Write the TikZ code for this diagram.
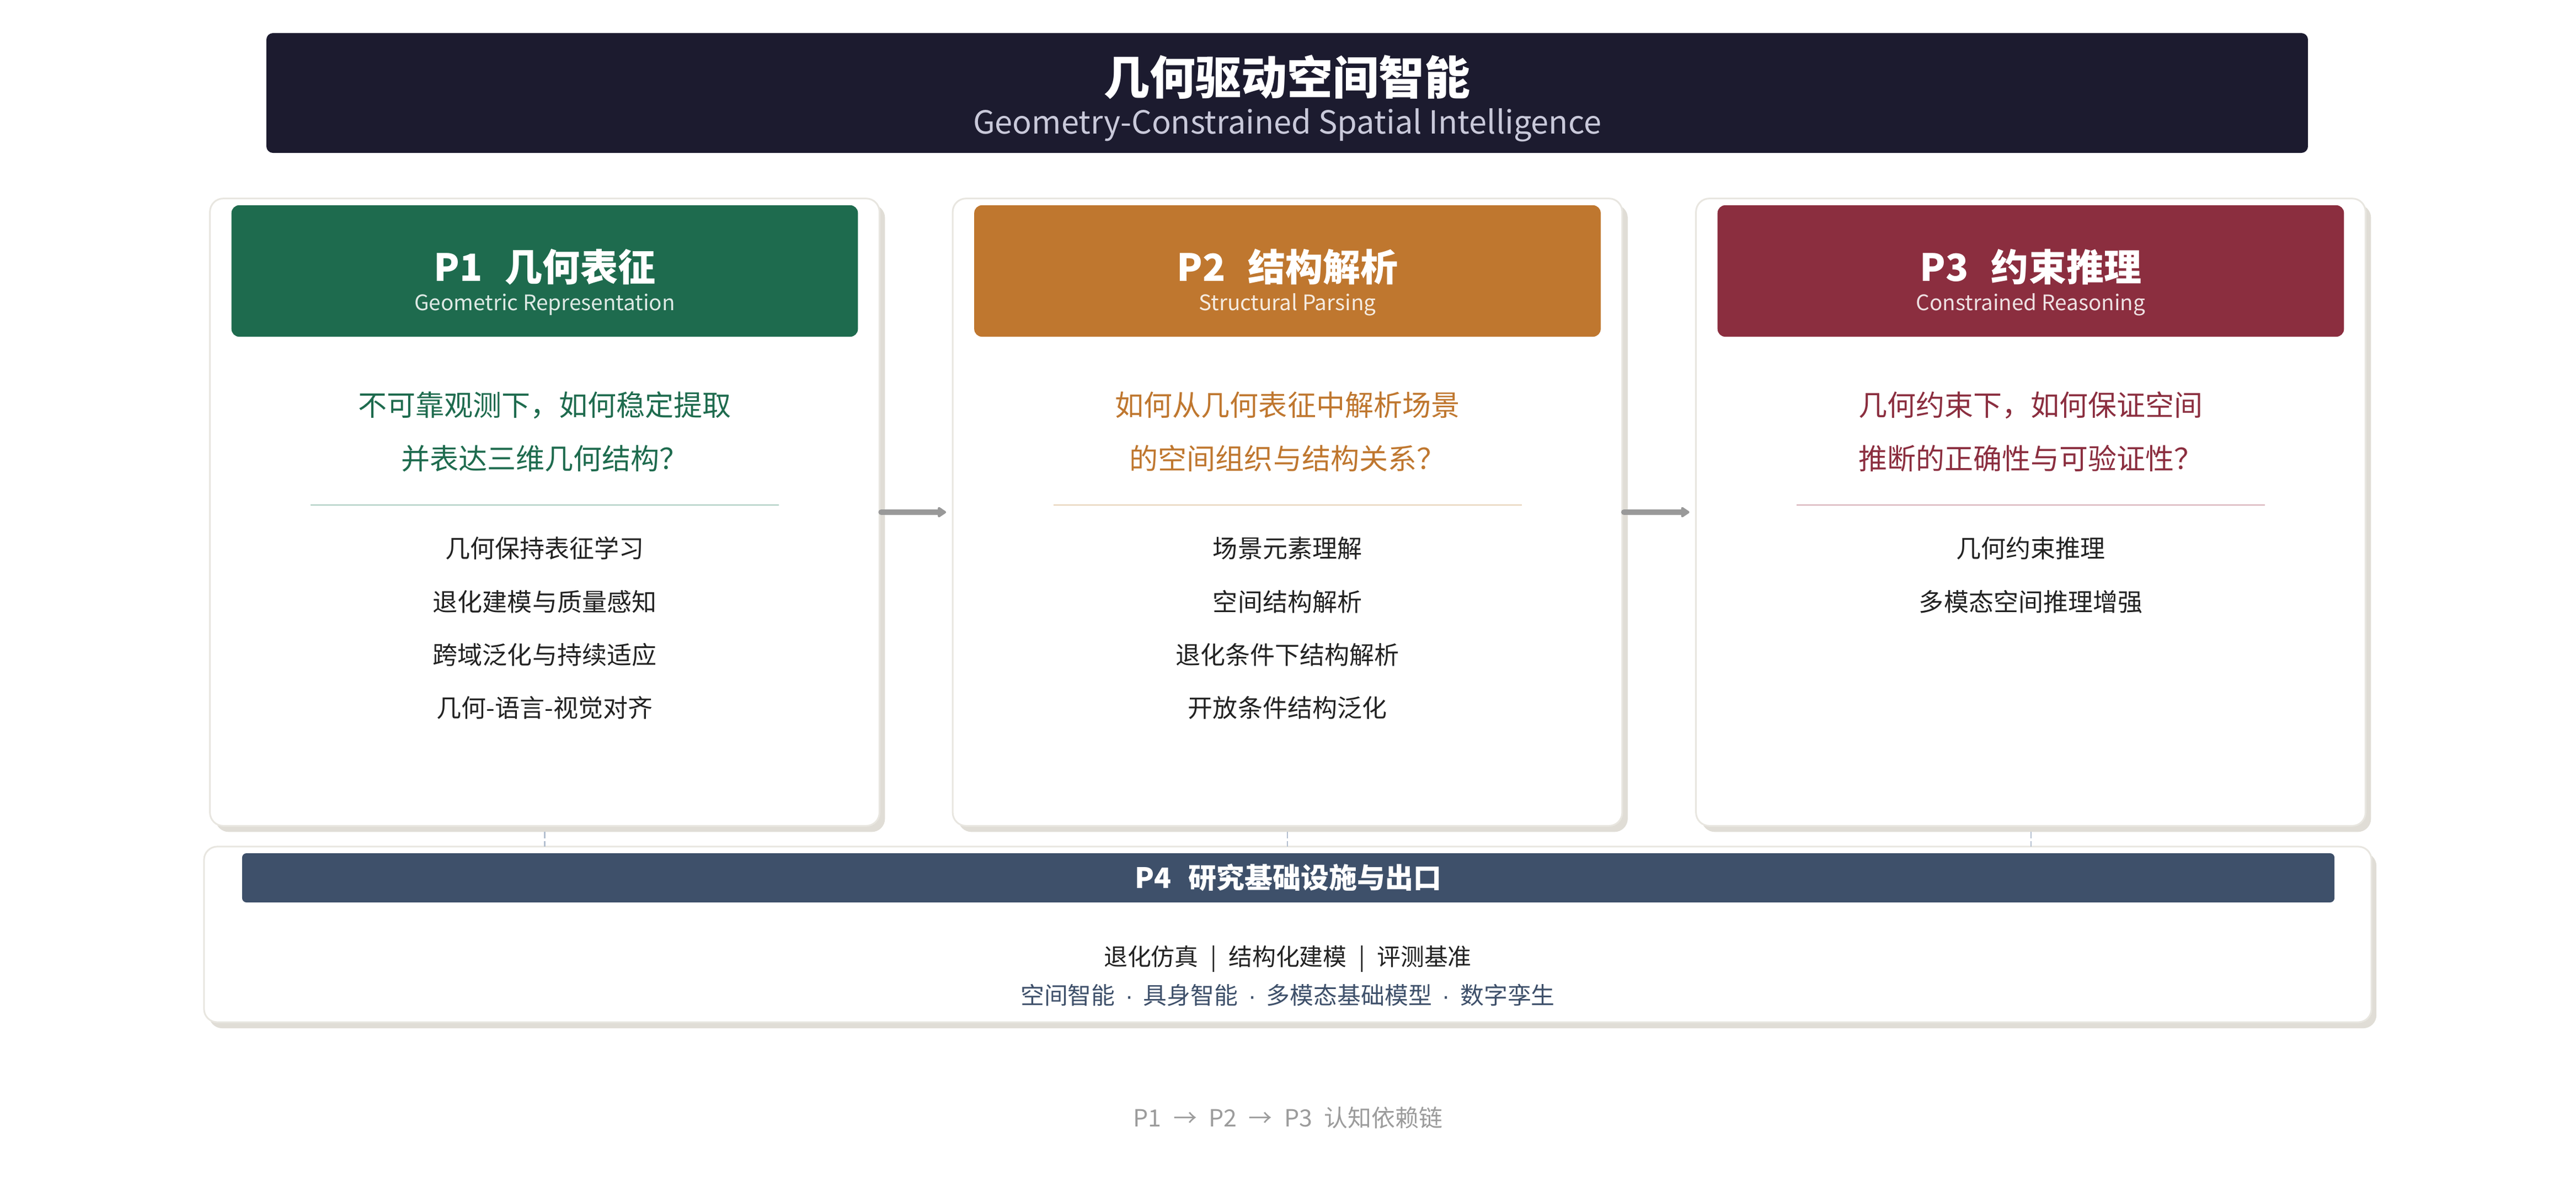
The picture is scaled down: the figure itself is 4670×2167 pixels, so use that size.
\documentclass[tikz,border=0pt]{standalone}
\usepackage{fontspec}
\setmainfont{Noto Sans CJK SC}
\newfontfamily\dotfont{Liberation Sans}
\usetikzlibrary{arrows.meta}
\definecolor{titlebg}{HTML}{1C1B2F}
\definecolor{titlesub}{HTML}{C9C9DA}
\definecolor{pgreen}{HTML}{1E6B4E}
\definecolor{porange}{HTML}{BF772F}
\definecolor{pred}{HTML}{8B2E3F}
\definecolor{pslate}{HTML}{3E506A}
\definecolor{sepgreen}{HTML}{A9CCBF}
\definecolor{seporange}{HTML}{E6D1B5}
\definecolor{sepred}{HTML}{D6AEB5}
\definecolor{itemc}{HTML}{222222}
\definecolor{shadowc}{HTML}{E0DDD6}
\definecolor{borderc}{HTML}{E8E6E0}
\definecolor{arrowc}{HTML}{999999}
\definecolor{dashc}{HTML}{B4C0D0}
\definecolor{footc}{HTML}{9C9C9C}
\newcommand{\mydot}{\hspace{0.43em}{\dotfont ·}\hspace{0.43em}}
\begin{document}
\begin{tikzpicture}[x=0.01cm,y=-0.01cm,
  box/.style={rectangle, inner sep=0pt, outer sep=0pt},
  shadowbox/.style={box, fill=shadowc, rounded corners=0.24cm, minimum width=12.13cm, minimum height=11.36cm},
  cardbox/.style={box, fill=white, draw=borderc, line width=0.85pt, rounded corners=0.24cm, minimum width=12.13cm, minimum height=11.36cm},
  headbox/.style={box, rounded corners=0.14cm, minimum width=11.35cm, minimum height=2.38cm},
  txt/.style={inner sep=0pt, outer sep=0pt},
  htitle/.style={txt, text=white, font=\fontsize{19.35pt}{22pt}\selectfont\bfseries},
  hsub/.style={txt, font=\fontsize{11pt}{13pt}\selectfont},
  qtext/.style={txt, font=\fontsize{14.8pt}{18pt}\selectfont},
  itemtxt/.style={txt, text=itemc, font=\fontsize{12.8pt}{15pt}\selectfont},
  sepline/.style={line width=0.75pt},
  arr/.style={draw=arrowc, line width=2.85pt, line cap=round, -{Triangle[round,length=4.8pt,width=6pt]}},
  dashline/.style={draw=dashc, line width=0.6pt, dash pattern=on 3.4pt off 1.4pt},
  p4txt/.style={txt, font=\fontsize{12.2pt}{15pt}\selectfont}
]
\useasboundingbox[fill=white] (0,0) rectangle (4670,2167);

% ---- title bar ----
\node[box, fill=titlebg, rounded corners=0.12cm, minimum width=36.99cm, minimum height=2.17cm] (tb) at (2333.5,168.5) {};
\node[txt, text=white, font=\fontsize{23.6pt}{28pt}\selectfont\bfseries] (tbt) at (2333.5,140) {几何驱动空间智能};
\node[txt, text=titlesub, font=\fontsize{16.4pt}{20pt}\selectfont] (tbs) at (2333.5,227) {Geometry-Constrained Spatial Intelligence};

% ---- P4 frame ----
\node[box, fill=shadowc, rounded corners=0.24cm, minimum width=39.27cm, minimum height=3.18cm] (p4s) at (2343.5,1704) {};
\node[box, fill=white, draw=borderc, line width=0.85pt, rounded corners=0.24cm, minimum width=39.27cm, minimum height=3.18cm] (p4) at (2334.5,1693) {};

% ---- card 1 ----
\node[shadowbox] (c1s) at (997.5,939) {};
\node[cardbox] (c1) at (987.5,928) {};
\node[headbox, fill=pgreen] (h1) at (987.5,491) {};
\node[htitle] (h1t) at (987.5,484) {P1\hspace{0.6em}几何表征};
\node[hsub, text=white!85!pgreen] (h1s) at (987.5,552) {Geometric Representation};
\node[qtext, text=pgreen] (q1a) at (987.5,734) {不可靠观测下，如何稳定提取};
\node[qtext, text=pgreen] (q1b) at (987.5,831) {并表达三维几何结构？};
\coordinate (s1a) at (563,915); \coordinate (s1b) at (1412,915);
\draw[sepline, draw=sepgreen] (s1a) -- (s1b);
\node[itemtxt] (i1a) at (987.5,993) {几何保持表征学习};
\node[itemtxt] (i1b) at (987.5,1090) {退化建模与质量感知};
\node[itemtxt] (i1c) at (987.5,1186) {跨域泛化与持续适应};
\node[itemtxt] (i1d) at (987.5,1282) {几何-语言-视觉对齐};

% ---- card 2 ----
\node[shadowbox] (c2s) at (2344,939) {};
\node[cardbox] (c2) at (2334,928) {};
\node[headbox, fill=porange] (h2) at (2334,491) {};
\node[htitle] (h2t) at (2334,484) {P2\hspace{0.6em}结构解析};
\node[hsub, text=white!85!porange] (h2s) at (2334,552) {Structural Parsing};
\node[qtext, text=porange] (q2a) at (2334,734) {如何从几何表征中解析场景};
\node[qtext, text=porange] (q2b) at (2334,831) {的空间组织与结构关系？};
\coordinate (s2a) at (1910,915); \coordinate (s2b) at (2759,915);
\draw[sepline, draw=seporange] (s2a) -- (s2b);
\node[itemtxt] (i2a) at (2334,993) {场景元素理解};
\node[itemtxt] (i2b) at (2334,1090) {空间结构解析};
\node[itemtxt] (i2c) at (2334,1186) {退化条件下结构解析};
\node[itemtxt] (i2d) at (2334,1282) {开放条件结构泛化};

% ---- card 3 ----
\node[shadowbox] (c3s) at (3691.5,939) {};
\node[cardbox] (c3) at (3681.5,928) {};
\node[headbox, fill=pred] (h3) at (3681.5,491) {};
\node[htitle] (h3t) at (3681.5,484) {P3\hspace{0.6em}约束推理};
\node[hsub, text=white!85!pred] (h3s) at (3681.5,552) {Constrained Reasoning};
\node[qtext, text=pred] (q3a) at (3681.5,734) {几何约束下，如何保证空间};
\node[qtext, text=pred] (q3b) at (3681.5,831) {推断的正确性与可验证性？};
\coordinate (s3a) at (3257,915); \coordinate (s3b) at (4106,915);
\draw[sepline, draw=sepred] (s3a) -- (s3b);
\node[itemtxt] (i3a) at (3681.5,993) {几何约束推理};
\node[itemtxt] (i3b) at (3681.5,1090) {多模态空间推理增强};

% ---- arrows ----
\draw[arr] ([xshift=0.03cm]c1.east) -- ([xshift=-0.12cm]c2.west);
\draw[arr] ([xshift=0.03cm]c2.east) -- ([xshift=-0.12cm]c3.west);

% ---- dashed connectors ----
\draw[dashline] (c1s.south -| c1.south) -- (c1.south |- p4.north);
\draw[dashline] (c2s.south -| c2.south) -- (c2.south |- p4.north);
\draw[dashline] (c3s.south -| c3.south) -- (c3.south |- p4.north);

% ---- P4 ----
\node[box, fill=pslate, rounded corners=0.08cm, minimum width=37.91cm, minimum height=0.89cm] (p4h) at (2335.5,1590.5) {};
\node[txt, text=white, font=\fontsize{14.5pt}{17pt}\selectfont\bfseries] (p4t) at (2335.5,1590) {P4\hspace{0.6em}研究基础设施与出口};
\node[p4txt, text=itemc] (p4a) at (2334.5,1737) {退化仿真\hspace{0.5em}|\hspace{0.5em}结构化建模\hspace{0.5em}|\hspace{0.5em}评测基准};
\node[p4txt, text=pslate] (p4b) at (2334.5,1803) {空间智能\mydot 具身智能\mydot 多模态基础模型\mydot 数字孪生};

% ---- footer ----
\node[txt, text=footc, font=\fontsize{12.2pt}{15pt}\selectfont] (foot) at (2335,2025) {P1\hspace{0.5em}→\hspace{0.5em}P2\hspace{0.5em}→\hspace{0.5em}P3\hspace{0.5em}认知依赖链};
\end{tikzpicture}
\end{document}
